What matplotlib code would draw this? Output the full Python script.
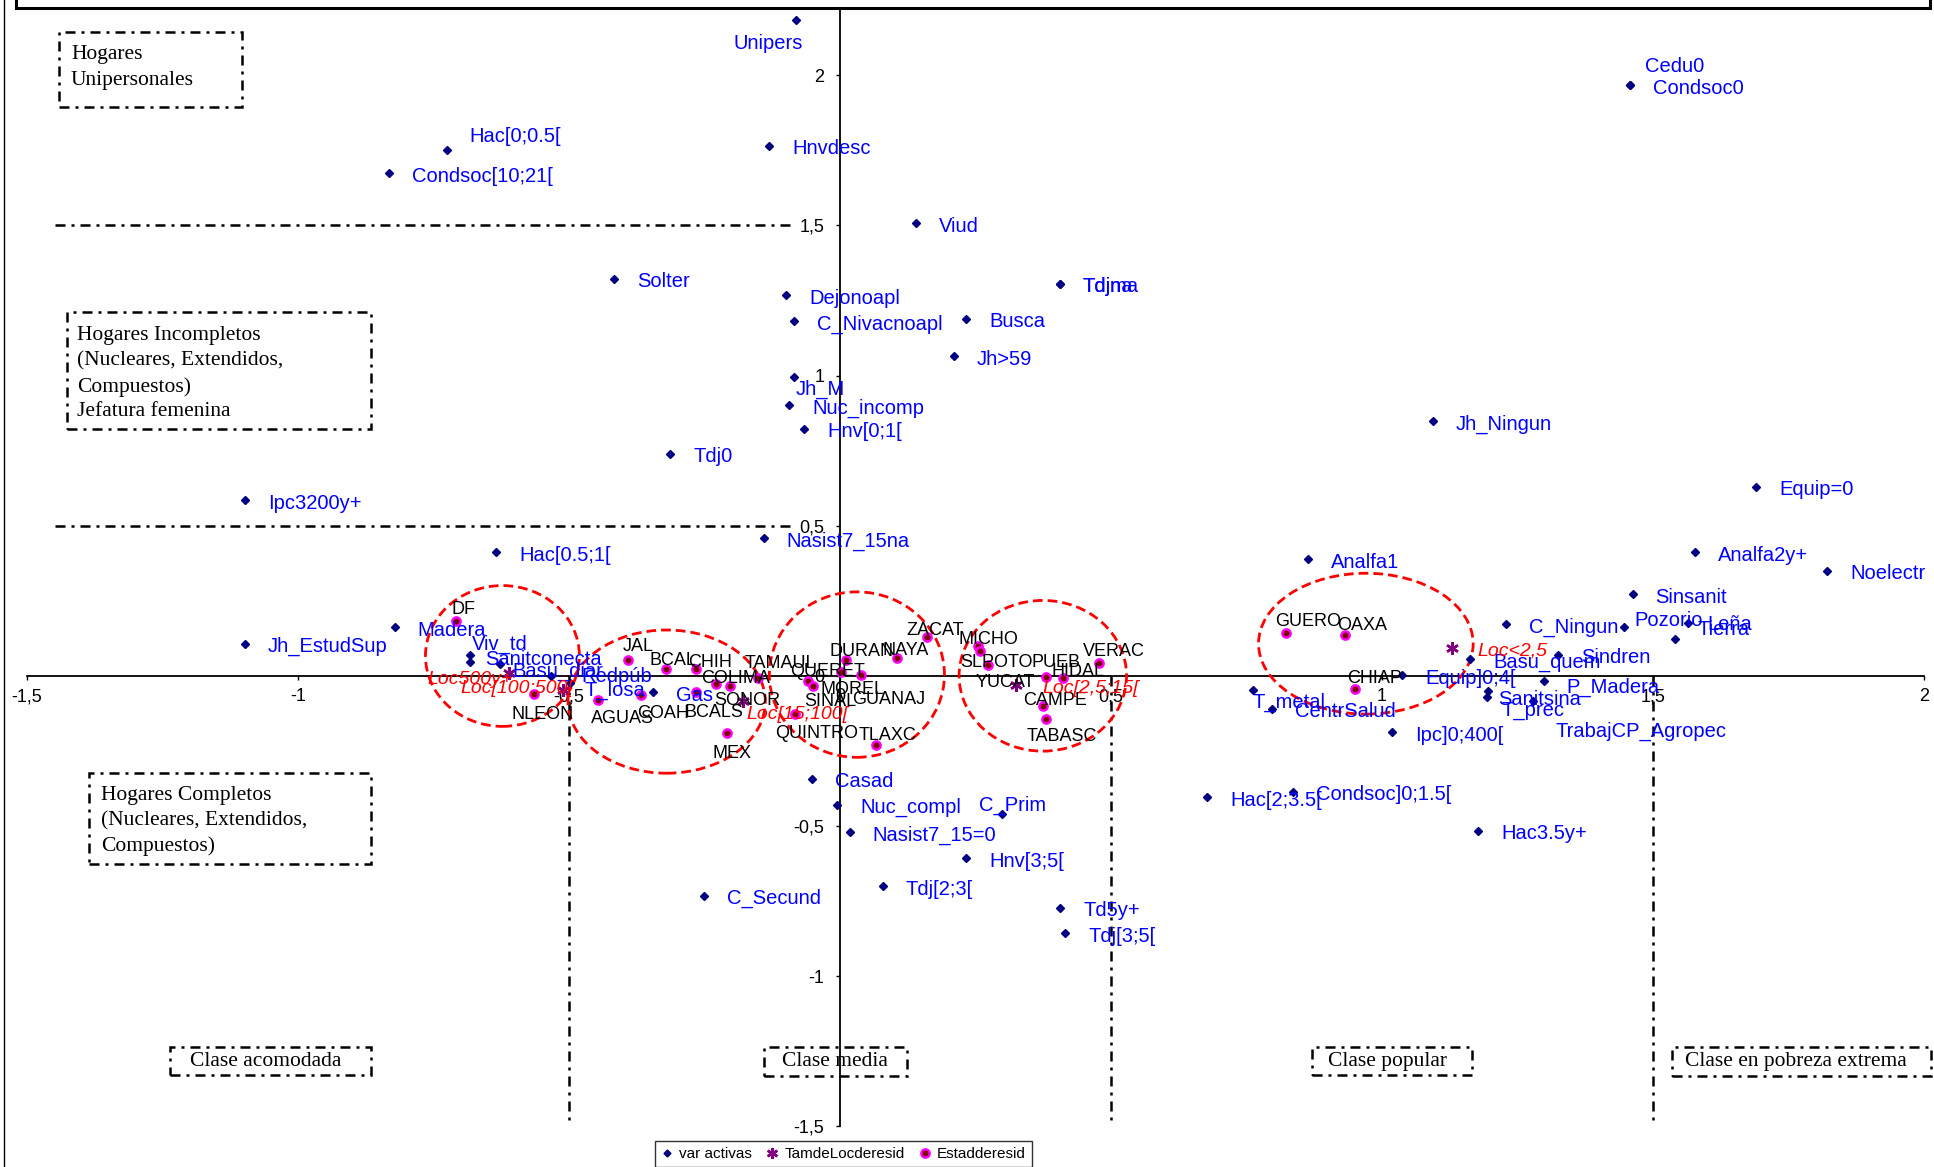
import matplotlib
matplotlib.use('Agg')
import matplotlib.pyplot as plt
from matplotlib.patches import Ellipse, Rectangle
from matplotlib.lines import Line2D
from matplotlib.ticker import FuncFormatter

plt.rcParams['font.family'] = ['Liberation Sans', 'DejaVu Sans']

# --- variables activas (blue labels) ---
var_labels = ['Unipers', 'Hnvdesc', 'Viud', 'Tdjna', 'Tdjma', 'Dejonoapl', 'C_Nivacnoapl',
              'Busca', 'Jh>59', 'Jh_M', 'Nuc_incomp', 'Hnv[0;1[', 'Tdj0', 'Nasist7_15na',
              'Solter', 'Hac[0;0.5[', 'Condsoc[10;21[', 'Ipc3200y+', 'Hac[0.5;1[',
              'Jh_EstudSup', 'Madera', 'Viv_td', 'Sanitconecta', 'Basu_diar', 'Redpúb',
              'T_losa', 'Gas', 'T_metal', 'CentrSalud', 'Hac[2;3.5[', 'Condsoc]0;1.5[',
              'Casad', 'Nuc_compl', 'C_Prim', 'Nasist7_15=0', 'Hnv[3;5[', 'Tdj[2;3[',
              'C_Secund', 'Td5y+', 'Tdj[3;5[', 'Jh_Ningun', 'Equip=0', 'Analfa1',
              'Analfa2y+', 'Noelectr', 'Sinsanit', 'Pozorio', 'C_Ningun', 'Leña', 'Tierra',
              'Basu_quem', 'Sindren', 'Equip]0;4[', 'P_Madera', 'Sanitsina', 'T_prec',
              'TrabajCP_Agropec', 'Ipc]0;400[', 'Hac3.5y+', 'Cedu0', 'Condsoc0']
var_x = [-0.081, -0.131, 0.140, 0.405, 0.405, -0.099, -0.085,
         0.233, 0.210, -0.085, -0.094, -0.066, -0.313, -0.141,
         -0.417, -0.725, -0.832, -1.098, -0.635,
         -1.098, -0.822, -0.683, -0.683, -0.627, -0.533,
         -0.499, -0.345, 0.761, 0.797, 0.677, 0.836,
         -0.052, -0.005, 0.298, 0.018, 0.233, 0.079,
         -0.252, 0.406, 0.415, 1.094, 1.690, 0.864,
         1.578, 1.821, 1.462, 1.446, 1.228, 1.564, 1.541,
         1.163, 1.325, 1.037, 1.298, 1.195, 1.194,
         1.278, 1.018, 1.177, 1.457, 1.457]
var_y = [2.184, 1.765, 1.507, 1.306, 1.306, 1.267, 1.181,
         1.189, 1.065, 0.996, 0.902, 0.823, 0.739, 0.459,
         1.322, 1.750, 1.673, 0.584, 0.411,
         0.107, 0.162, 0.068, 0.046, 0.038, 0.000,
         -0.024, -0.055, -0.049, -0.110, -0.405, -0.387,
         -0.343, -0.429, -0.462, -0.521, -0.608, -0.701,
         -0.733, -0.772, -0.857, 0.847, 0.629, 0.388,
         0.411, 0.350, 0.272, 0.162, 0.171, 0.177, 0.123,
         0.055, 0.070, 0.002, -0.016, -0.052, -0.071,
         -0.085, -0.188, -0.516, 1.967, 1.967]

# --- tamaño de localidad (suplementarias) ---
loc_labels = ['Loc500y+', 'Loc[100;500[', 'Loc[15;100[', 'Loc[2,5;15[', 'Loc<2,5']
loc_x = [-0.610, -0.511, -0.179, 0.325, 1.129]
loc_y = [0.009, -0.049, -0.085, -0.032, 0.093]

# --- estados (suplementarias) ---
est_labels = ['DF', 'NLEON', 'AGUAS', 'JAL', 'COAH', 'BCAL', 'CHIH', 'BCALS', 'COLIMA',
              'SONOR', 'TAMAUL', 'MEX', 'QUINTRO', 'QUERET', 'SINAL', 'DURAN', 'MOREL',
              'GUANAJ', 'NAYA', 'ZACAT', 'TLAXC', 'MICHO', 'YUCAT', 'SLPOTO', 'PUEB',
              'HIDAL', 'CAMPE', 'TABASC', 'VERAC', 'GUERO', 'OAXA', 'CHIAP']
est_x = [-0.708, -0.565, -0.447, -0.391, -0.368, -0.321, -0.265, -0.265, -0.229,
         -0.204, -0.152, -0.208, -0.083, -0.059, -0.050, 0.010, 0.001,
         0.039, 0.105, 0.160, 0.067, 0.254, 0.258, 0.273, 0.380,
         0.412, 0.374, 0.379, 0.478, 0.823, 0.932, 0.950]
est_y = [0.183, -0.060, -0.082, 0.051, -0.065, 0.021, 0.022, -0.054, -0.029,
         -0.034, -0.007, -0.190, -0.126, -0.019, -0.034, 0.051, 0.013,
         0.004, 0.059, 0.130, -0.229, 0.098, 0.083, 0.035, -0.004,
         -0.009, -0.099, -0.145, 0.043, 0.144, 0.135, -0.043]

# label placement (pixels)
var_off = {'Unipers': (7, -20, 'right'), 'Hac[0;0.5[': (22, 17, 'left'), 'Jh_M': (2, -10, 'left'),
           'Viv_td': (2, 14, 'left'), 'Sanitconecta': (15, 5, 'left'), 'Basu_diar': (12, -4, 'left'),
           'Redpúb': (30, 2, 'left'), 'T_losa': (15, -4, 'left'), 'T_metal': (0, -9, 'left'),
           'C_Prim': (-23, 12, 'left'), 'Pozorio': (11, 10, 'left'), 'Leña': (20, 1, 'left'),
           'Tierra': (22, 12, 'left'), 'Sanitsina': (10, -5, 'left'), 'T_prec': (14, -10, 'left'),
           'TrabajCP_Agropec': (23, -27, 'left'), 'Cedu0': (15, 22, 'left'),
           'P_Madera': (23, -4, 'left')}
est_off = [(7, 14), (9, -18), (25, -15), (10, 17), (22, -15), (7, 12), (14, 10), (17, -18),
           (20, 9), (18, -12), (23, 17), (5, -18), (22, -17), (19, 13), (17, -13), (16, 12),
           (12, -15), (27, -22), (9, 11), (8, 9), (11, 12), (11, 10), (25, -29), (8, 6),
           (10, 17), (15, 10), (12, 8), (16, -14), (15, 14), (22, 14), (17, 13), (20, 13)]
loc_off = [(3, -3, 'right'), (10, 5, 'right'), (3, -10, 'left'), (26, 0, 'left'), (25, 0, 'left')]
shift = -3  # text sits a little lower than matplotlib's centre

# groups of states (red dashed ellipses): center x, center y, width, height
groups = [(-0.623, 0.066, 0.284, 0.469), (-0.320, -0.086, 0.364, 0.477),
          (0.031, 0.004, 0.323, 0.551), (0.374, 0.000, 0.309, 0.502),
          (0.970, 0.107, 0.396, 0.469)]

dashdot = (0, (4, 2.4, 1.2, 2.4))

fig = plt.figure(figsize=(19.34, 11.67), dpi=100)
ax = fig.add_axes([0.0140, 0.0350, 0.9809, 0.9648])
ax.set_xlim(-1.5, 2)
ax.set_ylim(-1.5, 2.25)

for s in ['top', 'right']:
    ax.spines[s].set_visible(False)
ax.spines['left'].set_position(('data', 0))
ax.spines['bottom'].set_position(('data', 0))
ax.spines['left'].set_linewidth(1.3)
ax.spines['bottom'].set_linewidth(1.3)
ax.set_xticks([-1.5, -1, -0.5, 0, 0.5, 1, 1.5, 2])
ax.set_yticks([-1.5, -1, -0.5, 0, 0.5, 1, 1.5, 2])
comma = FuncFormatter(lambda v, pos: f'{v:g}'.replace('.', ','))
ax.xaxis.set_major_formatter(comma)
ax.yaxis.set_major_formatter(comma)
ax.tick_params(axis='both', direction='out', length=3, width=1, labelsize=13)
ax.tick_params(axis='y', pad=8.5)
ax.tick_params(axis='x', pad=6)

# dividing lines
for yy in [1.5, 0.5]:
    ax.plot([-1.448, -0.093], [yy, yy], color='black', lw=1.8, linestyle=dashdot, zorder=2)
for xx in [-0.5, 0.5, 1.5]:
    ax.plot([xx, xx], [0, -1.48], color='black', lw=1.8, linestyle=dashdot, zorder=2)

for cx, cy, w, h in groups:
    ax.add_patch(Ellipse((cx, cy), w, h, fill=False, edgecolor='#FF0000', lw=2,
                         linestyle=(0, (3.5, 1.8)), zorder=3))

# text boxes
boxes = [((-1.441, 1.893), 0.337, 0.251, -1.419, [(2.079, 'Hogares'), (1.991, 'Unipersonales')]),
         ((-1.427, 0.823), 0.562, 0.387, -1.407,
          [(1.144, 'Hogares Incompletos'), (1.058, '(Nucleares, Extendidos,'),
           (0.972, 'Compuestos)'), (0.891, 'Jefatura femenina')]),
         ((-1.386, -0.626), 0.521, 0.301, -1.363,
          [(-0.388, 'Hogares Completos'), (-0.474, '(Nucleares, Extendidos,'),
           (-0.558, 'Compuestos)')]),
         ((-1.236, -1.329), 0.371, 0.094, -1.200, [(-1.276, 'Clase acomodada')]),
         ((-0.140, -1.333), 0.264, 0.098, -0.108, [(-1.276, 'Clase media')]),
         ((0.870, -1.329), 0.296, 0.094, 0.901, [(-1.276, 'Clase popular')]),
         ((1.534, -1.333), 0.478, 0.098, 1.559, [(-1.276, 'Clase en pobreza extrema')])]
for (bx, by), bw, bh, tx, lines in boxes:
    ax.add_patch(Rectangle((bx, by), bw, bh, fill=False, edgecolor='black', lw=1.8,
                           linestyle=dashdot, clip_on=False, zorder=5))
    for ty, t in lines:
        ax.annotate(t, (tx, ty), xytext=(0, -3), textcoords='offset pixels',
                    family=['Liberation Serif'], fontsize=15.5, color='black',
                    ha='left', va='center', zorder=6, annotation_clip=False)

# points
ax.plot(var_x, var_y, 'D', ms=3.6, color='#000080', ls='none', zorder=7, clip_on=False)
ax.plot(loc_x, loc_y, marker=(6, 2, 0), ms=9, color='#800080', mew=1.8, ls='none', zorder=7)
ax.plot(est_x, est_y, 'o', ms=6, mfc='#800000', mec='#FF00FF', mew=1.7, ls='none', zorder=7)

for lab, x, y in zip(var_labels, var_x, var_y):
    dx, dy, ha = var_off.get(lab, (23, 0, 'left'))
    ax.annotate(lab, (x, y), xytext=(dx, dy + shift), textcoords='offset pixels', ha=ha,
                va='center', fontsize=14.5, color='#0000FF', zorder=8, annotation_clip=False)
for lab, x, y, (dx, dy) in zip(est_labels, est_x, est_y, est_off):
    ax.annotate(lab, (x, y), xytext=(dx, dy + shift), textcoords='offset pixels', ha='center',
                va='center', fontsize=13, color='black', zorder=8)
for lab, x, y, (dx, dy, ha) in zip(loc_labels, loc_x, loc_y, loc_off):
    ax.annotate(lab, (x, y), xytext=(dx, dy + shift), textcoords='offset pixels', ha=ha,
                va='center', fontsize=14, color='#FF0000', style='italic', zorder=8)

# legend
handles = [Line2D([], [], marker='D', ms=3.5, color='#000080', ls='none'),
           Line2D([], [], marker=(6, 2, 0), ms=8, color='#800080', mew=1.8, ls='none'),
           Line2D([], [], marker='o', ms=6, mfc='#800000', mec='#FF00FF', mew=1.7, ls='none')]
leg = fig.legend(handles, ['var activas', 'TamdeLocderesid', 'Estadderesid'],
                 loc='upper left', bbox_to_anchor=(655 / 1934, 1 - 1141 / 1167), ncol=3,
                 fontsize=11, frameon=True, fancybox=False, edgecolor='black',
                 handlelength=0.8, handletextpad=0.4, columnspacing=0.9,
                 borderpad=0.4, borderaxespad=0)
leg.get_frame().set_linewidth(1)

# title frame (cut at top) and chart border
fig.patches.append(Rectangle((16 / 1934, 1 - 8 / 1167), 1914 / 1934, 0.05, transform=fig.transFigure,
                             facecolor='white', edgecolor='black', lw=2.2, zorder=10))
fig.lines.append(Line2D([4 / 1934, 4 / 1934], [0, 1], transform=fig.transFigure,
                        color='black', lw=1))

fig.savefig('out.png', dpi=100)
